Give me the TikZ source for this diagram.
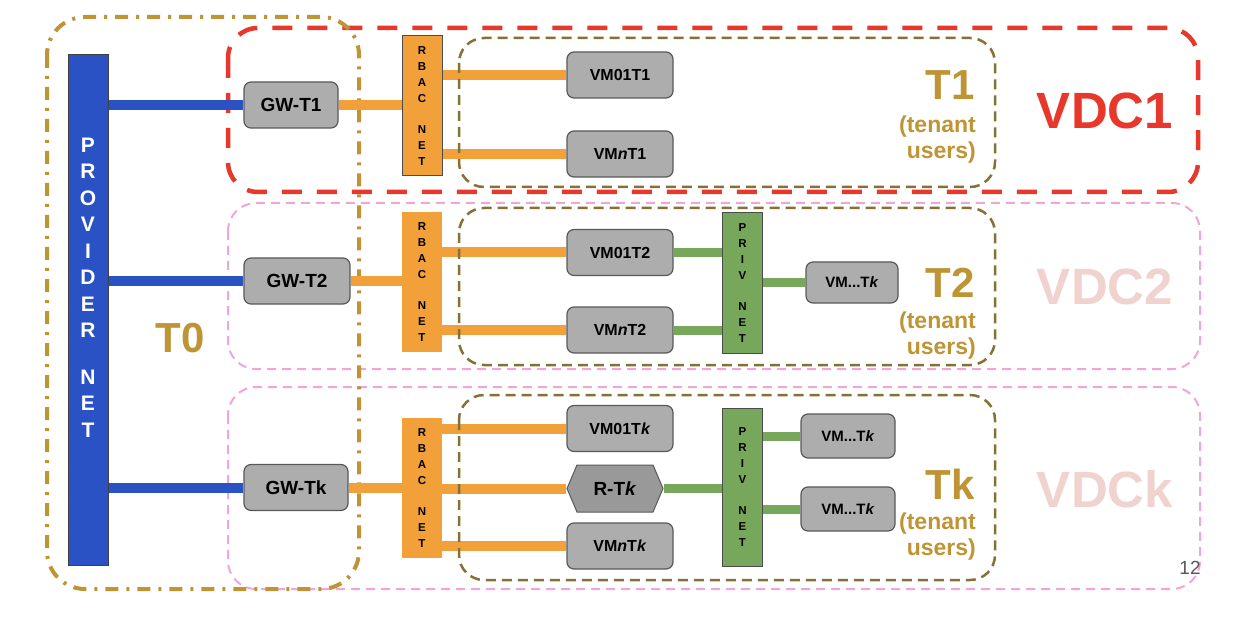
\documentclass[tikz,border=0pt]{standalone}
\usepackage{fontspec}
\setmainfont{Liberation Sans}
\usepackage{tikz}
\usetikzlibrary{shapes.symbols,backgrounds}

\definecolor{provblue}{HTML}{2A52C4}
\definecolor{rbacorange}{HTML}{F1A03A}
\definecolor{privgreen}{HTML}{77A75A}
\definecolor{vmgray}{HTML}{ADADAD}
\definecolor{routgray}{HTML}{999999}
\definecolor{tgold}{HTML}{BF9435}
\definecolor{tolive}{HTML}{857035}
\definecolor{vdcred}{HTML}{E8382C}
\definecolor{vdcpink}{HTML}{F3A5D8}
\definecolor{vdcpale}{HTML}{F0D2CE}

\tikzset{
  vmbox/.style={draw=black!65, fill=vmgray, line width=1.2pt, rounded corners=7pt,
    minimum width=106pt, minimum height=46pt, inner sep=0pt,
    font=\fontsize{16}{16}\selectfont\bfseries},
  gwbox/.style={vmbox, font=\fontsize{19}{19}\selectfont\bfseries},
  privvm/.style={vmbox, minimum width=94pt, minimum height=44pt,
    font=\fontsize{15}{15}\selectfont\bfseries},
  router/.style={draw=black!65, fill=routgray, line width=1pt, signal,
    signal to=east and west, signal pointer angle=134,
    minimum width=96pt, minimum height=47pt, inner sep=0pt,
    font=\fontsize{19}{19}\selectfont\bfseries},
  provbar/.style={draw=black!75, fill=provblue, line width=1pt,
    minimum width=40pt, minimum height=510pt},
  provtext/.style={white, inner sep=0pt, align=center,
    font=\fontsize{21}{26.5}\selectfont\bfseries},
  rbacbar/.style={fill=rbacorange, minimum width=40pt, minimum height=140pt,
    inner sep=0pt, align=center, font=\fontsize{11.5}{16}\selectfont\bfseries},
  privbar/.style={rbacbar, draw=black!70, line width=1pt, fill=privgreen},
  bluelink/.style={provblue, line width=10pt},
  orlink/.style={rbacorange, line width=10pt},
  grlink/.style={privgreen, line width=9pt},
  tzeroframe/.style={tgold, line width=4pt,
    dash pattern=on 13pt off 8pt on 3pt off 8pt, rounded corners=38pt},
  vdconeframe/.style={vdcred, line width=4.5pt,
    dash pattern=on 20pt off 15pt, rounded corners=30pt},
  vdcframe/.style={vdcpink, line width=2pt,
    dash pattern=on 9pt off 6pt, rounded corners=28pt},
  tenframe/.style={tolive, line width=2.5pt,
    dash pattern=on 10pt off 6pt, rounded corners=25pt},
  tname/.style={tgold, inner sep=0pt, anchor=east,
    font=\fontsize{42}{42}\selectfont\bfseries},
  tusers/.style={tgold, inner sep=0pt, anchor=east, align=right,
    font=\fontsize{23}{26}\selectfont\bfseries},
  vdcname/.style={inner sep=0pt, font=\fontsize{51}{51}\selectfont\bfseries}
}

\begin{document}
\begin{tikzpicture}[x=1pt, y=-1pt]
\newcommand{\tleft}{459}
\newcommand{\tright}{995}
%% data centres and the provider tenant
\begin{pgfonlayer}{background}
  \fill[white] (0, 0) rectangle (1244, 620);
  \draw[vdcframe] (228, 203) rectangle (1200, 369);
  \draw[vdcframe] (228, 387) rectangle (1200, 589);
  \draw[vdconeframe] (228, 28) rectangle (1198, 192);
  \draw[tzeroframe] (47, 17) rectangle (359, 589);
\end{pgfonlayer}
\useasboundingbox (0, 0) rectangle (1244, 620);
\draw[tenframe] (\tleft, 38) rectangle (\tright, 187);
\draw[tenframe] (\tleft, 208) rectangle (\tright, 365);
\draw[tenframe] (\tleft, 395) rectangle (\tright, 580);

\node[vdcname, text=vdcred] (vdc1) at (1105, 111) {VDC1};
\node[vdcname, text=vdcpale] (vdc2) at (1105, 287) {VDC2};
\node[vdcname, text=vdcpale] (vdck) at (1105, 489) {VDCk};
\node[tname, anchor=center] (tzero) at (180, 338) {T0};
\node[tname] (tone) at (975, 85) {T1};
\node[tusers] (toneusr) at (976, 139.5) {(tenant\\users)};
\node[tname] (ttwo) at (975, 282.5) {T2};
\node[tusers] (ttwousr) at (976, 335.5) {(tenant\\users)};
\node[tname] (tk) at (975, 484) {Tk};
\node[tusers] (tkusr) at (976, 536.5) {(tenant\\users)};

%% networks
\node[provbar] (prov) at (88, 310) {};
\node[provtext] (provlbl) at (88, 287.5) {P\\R\\O\\V\\I\\D\\E\\R\\[20pt]N\\E\\T};
\node[rbacbar, draw=black!70, line width=1pt] (rbac1) at (422, 106) {R\\B\\A\\C\\[15pt]N\\E\\T};
\node[rbacbar] (rbac2) at (422, 282) {R\\B\\A\\C\\[15pt]N\\E\\T};
\node[rbacbar] (rback) at (422, 488) {R\\B\\A\\C\\[15pt]N\\E\\T};
\node[privbar] (priv2) at (742.5, 283) {P\\R\\I\\V\\[15pt]N\\E\\T};
\node[privbar, minimum height=158pt] (privk) at (742.5, 487) {P\\R\\I\\V\\[15pt]N\\E\\T};

%% gateways, vms, router
\node[gwbox, minimum width=94pt] (gw1) at (291, 105) {GW-T1};
\node[gwbox] (gw2) at (297, 281) {GW-T2};
\node[gwbox, minimum width=104pt] (gwk) at (296, 487.5) {GW-Tk};
\node[vmbox] (vm01t1) at (620, 75) {VM01T1};
\node[vmbox] (vmnt1) at (620, 154) {VM\textit{n}T1};
\node[vmbox] (vm01t2) at (620, 252.5) {VM01T2};
\node[vmbox] (vmnt2) at (620, 330) {VM\textit{n}T2};
\node[vmbox] (vm01tk) at (620, 428.5) {VM01T\textit{k}};
\node[router] (rtk) at (615, 488.5) {R-T\textit{k}};
\node[vmbox] (vmntk) at (620, 546) {VM\textit{n}T\textit{k}};
\node[privvm, minimum width=92pt, minimum height=41pt] (vmx2) at (852, 282.5) {VM...T\textit{k}};
\node[privvm] (vmxk1) at (848, 436) {VM...T\textit{k}};
\node[privvm] (vmxk2) at (848, 509) {VM...T\textit{k}};

%% links, under the boxes
\begin{pgfonlayer}{background}
\foreach \g in {gw1, gw2, gwk}
  \draw[bluelink] (prov.east |- \g.west) -- (\g.west);
\foreach \g/\r in {gw1/rbac1, gw2/rbac2, gwk/rback}
  \draw[orlink] (\g.east) -- (\g.east -| \r.west);
\foreach \r/\v in {rbac1/vm01t1, rbac1/vmnt1, rbac2/vm01t2, rbac2/vmnt2,
                   rback/vm01tk, rback/rtk, rback/vmntk}
  \draw[orlink] (\r.east |- \v.west) -- (\v.west);
\foreach \v/\p in {vm01t2/priv2, vmnt2/priv2, rtk/privk}
  \draw[grlink] (\v.east) -- (\v.east -| \p.west);
\foreach \p/\v in {priv2/vmx2, privk/vmxk1, privk/vmxk2}
  \draw[grlink] (\p.east |- \v.west) -- (\v.west);
\end{pgfonlayer}

\node[inner sep=0pt, text=black!65, font=\fontsize{19}{19}\selectfont] (pgnum) at (1190, 568) {12};
\end{tikzpicture}
\end{document}
